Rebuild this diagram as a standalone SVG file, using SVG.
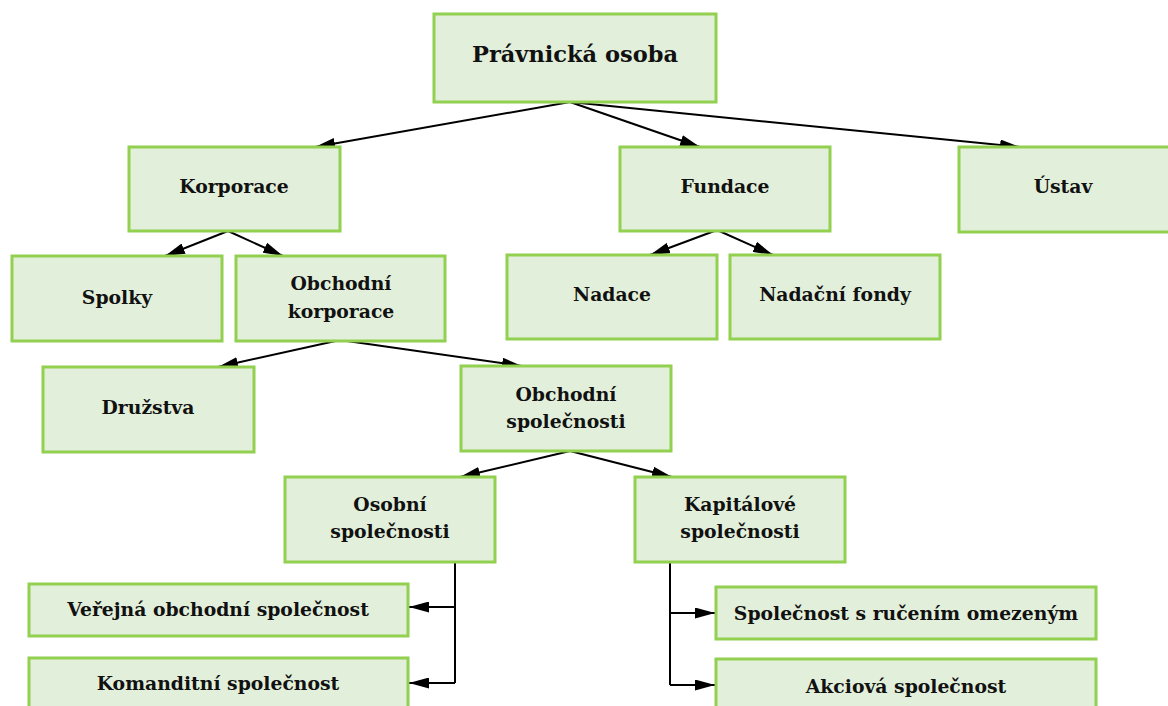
<svg xmlns="http://www.w3.org/2000/svg" width="1168" height="706" viewBox="0 0 1168 706">
<defs>
<marker id="ah" viewBox="0 0 20 11" refX="20" refY="5.5" markerWidth="20" markerHeight="11" markerUnits="userSpaceOnUse" orient="auto">
<path d="M0,0 L20,5.5 L0,11 Z" fill="#000"/>
</marker>
<style>
.box{fill:#e2efda;stroke:#92d050;stroke-width:3}
.t{font-family:'DejaVu Serif',serif;font-weight:700;font-size:18.8px;fill:#111;text-anchor:middle}
.big{font-size:22.5px}
.c{fill:none;stroke:#000;stroke-width:2;marker-end:url(#ah)}
.l{fill:none;stroke:#000;stroke-width:2}
</style>
</defs>
<rect width="1168" height="706" fill="#fff"/>
<g id="connectors">
<path class="c" d="M570,102 L315,147"/>
<path class="c" d="M570,102 L700,147"/>
<path class="c" d="M570,102 L1020,147"/>
<path class="c" d="M228,231 L165,256"/>
<path class="c" d="M228,231 L283,256"/>
<path class="c" d="M717,230 L650,255"/>
<path class="c" d="M717,230 L773,255"/>
<path class="c" d="M340,340 L218,367"/>
<path class="c" d="M340,340 L522,366"/>
<path class="c" d="M570,451 L460,477"/>
<path class="c" d="M570,451 L672,477"/>
<path class="l" d="M455,562 L455,683"/>
<path class="c" d="M455,607 L409,607"/>
<path class="c" d="M455,683 L409,683"/>
<path class="l" d="M670,562 L670,685"/>
<path class="c" d="M670,613 L715,613"/>
<path class="c" d="M670,685 L715,685"/>
</g>
<g id="pravnicka"><rect class="box" x="434" y="14" width="282" height="88"/><text class="t big" x="575" y="62">Právnická osoba</text></g>
<g id="korporace"><rect class="box" x="129" y="147" width="211" height="84"/><text class="t" x="234" y="193">Korporace</text></g>
<g id="fundace"><rect class="box" x="620" y="147" width="210" height="84"/><text class="t" x="725" y="193">Fundace</text></g>
<g id="ustav"><rect class="box" x="959" y="147" width="212" height="85"/><text class="t" x="1063" y="193">Ústav</text></g>
<g id="spolky"><rect class="box" x="12" y="256" width="210" height="85"/><text class="t" x="117" y="304">Spolky</text></g>
<g id="obchodni-korporace"><rect class="box" x="236" y="256" width="209" height="85"/><text class="t" x="341" y="290">Obchodní</text><text class="t" x="341" y="318">korporace</text></g>
<g id="nadace"><rect class="box" x="507" y="255" width="210" height="84"/><text class="t" x="612" y="301">Nadace</text></g>
<g id="nadacni-fondy"><rect class="box" x="730" y="255" width="210" height="84"/><text class="t" x="835" y="301">Nadační fondy</text></g>
<g id="druzstva"><rect class="box" x="43" y="367" width="211" height="85"/><text class="t" x="148" y="414">Družstva</text></g>
<g id="obchodni-spolecnosti"><rect class="box" x="461" y="366" width="210" height="85"/><text class="t" x="566" y="401">Obchodní</text><text class="t" x="566" y="428">společnosti</text></g>
<g id="osobni"><rect class="box" x="285" y="477" width="210" height="85"/><text class="t" x="390" y="511">Osobní</text><text class="t" x="390" y="538">společnosti</text></g>
<g id="kapitalove"><rect class="box" x="635" y="477" width="210" height="85"/><text class="t" x="740" y="511">Kapitálové</text><text class="t" x="740" y="538">společnosti</text></g>
<g id="vos"><rect class="box" x="29" y="584" width="379" height="52"/><text class="t" x="218" y="616">Veřejná obchodní společnost</text></g>
<g id="ks"><rect class="box" x="29" y="658" width="379" height="60"/><text class="t" x="218" y="690">Komanditní společnost</text></g>
<g id="sro"><rect class="box" x="716" y="587" width="380" height="52"/><text class="t" x="906" y="620">Společnost s ručením omezeným</text></g>
<g id="as"><rect class="box" x="716" y="659" width="380" height="60"/><text class="t" x="906" y="693">Akciová společnost</text></g>
</svg>
